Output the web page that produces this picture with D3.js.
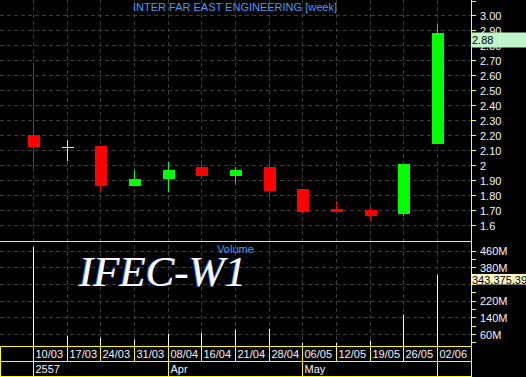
<!DOCTYPE html>
<html>
<head>
<meta charset="utf-8">
<script src="https://cdn.jsdelivr.net/npm/d3@7"></script>
<style>
body { margin: 0; background: #000; }
svg { display: block; }
text { font-family: 'Liberation Sans', Arial, sans-serif; font-size: 11px; }
</style>
</head>
<body>
<svg width="526" height="377"></svg>
<script>
// Weekly candles
var dates = ['10/03','17/03','24/03','31/03','08/04','16/04','21/04','28/04','06/05','12/05','19/05','26/05','02/06'];
var opens  = [2.20, 2.12, 2.13, 1.86, 1.91, 1.99, 1.93, 1.99, 1.84, 1.71, 1.70, 1.68, 2.14];
var highs  = [2.68, 2.17, 2.13, 1.97, 2.02, 2.01, 1.99, 2.04, 1.84, 1.76, 1.72, 2.01, 2.94];
var lows   = [1.97, 2.03, 1.83, 1.86, 1.82, 1.91, 1.88, 1.80, 1.68, 1.69, 1.63, 1.66, 2.14];
var closes = [2.12, 2.12, 1.86, 1.91, 1.97, 1.93, 1.97, 1.83, 1.69, 1.69, 1.66, 2.01, 2.88];
// volume in millions
var volumes = [478, 52, 42, 33, 61, 66, 81, 85, 18, 18, 28, 153, 343.37539];

var priceTicks  = [3.0, 2.9, 2.8, 2.7, 2.6, 2.5, 2.4, 2.3, 2.2, 2.1, 2.0, 1.9, 1.8, 1.7, 1.6];
var priceLabels = ['3.00','2.90','2.80','2.70','2.60','2.50','2.40','2.30','2.20','2.10','2','1.90','1.80','1.70','1.6'];
var volTicks  = [460, 380, 300, 220, 140, 60];
var volLabels = ['460M', '380M', '', '220M', '140M', '60M'];
var volMinor  = [420, 340, 260, 180, 100, 20];
var monthIdx    = [0, 4, 8, 12];
var monthLabels = ['2557', 'Apr', 'May', ''];

var title = 'INTER FAR EAST ENGINEERING [week]';
var symbol = 'IFEC-W1';

var svg = d3.select('svg');
svg.append('rect').attr('width', 526).attr('height', 377).attr('fill', '#000');

var axisX = 471.5;
var xScale = d3.scalePoint().domain(d3.range(dates.length)).range([33.5, 437.5]);
function px(i) { return Math.floor(xScale(i)) + 0.5; }
var yPrice = d3.scaleLinear().domain([1.6, 3.0]).range([225, 15]);
var yVol = d3.scaleLinear().domain([0, 480]).range([346.5, 246.5]);
function snap(v) { return Math.round(v) + 0.5; }

// grid
var gridG = svg.append('g')
    .attr('stroke', '#3a3a3a')
    .attr('stroke-dasharray', '4,3');
gridG.selectAll('.vg').data(d3.range(dates.length)).enter()
    .append('line')
    .attr('x1', px).attr('x2', px)
    .attr('y1', 0).attr('y2', 346);
gridG.selectAll('.hp').data(priceTicks).enter()
    .append('line')
    .attr('x1', 0).attr('x2', axisX)
    .attr('y1', function(d) { return snap(yPrice(d)); })
    .attr('y2', function(d) { return snap(yPrice(d)); });
gridG.selectAll('.hv').data(volTicks).enter()
    .append('line')
    .attr('x1', 0).attr('x2', axisX)
    .attr('y1', function(d) { return snap(yVol(d)); })
    .attr('y2', function(d) { return snap(yVol(d)); });

// titles
svg.append('text')
    .attr('x', 235).attr('y', 11)
    .attr('text-anchor', 'middle')
    .attr('fill', '#4a9cf0')
    .text(title);
svg.append('text')
    .attr('x', 235.5).attr('y', 252.5)
    .attr('text-anchor', 'middle')
    .attr('fill', '#4a9cf0')
    .text('Volume');

// big symbol watermark
var symStyle = function(sel) {
    sel.style('font-family', "'Liberation Serif', 'Times New Roman', serif")
       .style('font-style', 'italic')
       .style('font-size', '43px');
};
svg.append('text').attr('x', 78).attr('y', 286).attr('fill', '#4a7cff').call(symStyle).text(symbol);
svg.append('text').attr('x', 79).attr('y', 286).attr('fill', '#ffffff').call(symStyle).text(symbol);

// volume bars
svg.selectAll('.vol').data(volumes).enter()
    .append('line')
    .attr('x1', function(d, i) { return px(i); })
    .attr('x2', function(d, i) { return px(i); })
    .attr('y1', function(d) { return yVol(d); })
    .attr('y2', 346.5)
    .attr('stroke', '#fffff0');

// candles
var candles = dates.map(function(d, i) {
    return {o: opens[i], h: highs[i], l: lows[i], c: closes[i], i: i};
});
function candleColor(d) {
    if (d.o === d.c) return '#ffff00';
    return d.c > d.o ? '#00ff00' : '#ff0000';
}
var candleG = svg.selectAll('.candle').data(candles).enter()
    .append('g').attr('class', 'candle');
candleG.append('line')
    .attr('x1', function(d) { return px(d.i); })
    .attr('x2', function(d) { return px(d.i); })
    .attr('y1', function(d) { return Math.round(yPrice(d.h)); })
    .attr('y2', function(d) { return Math.round(yPrice(d.l)); })
    .attr('stroke', candleColor);
candleG.filter(function(d) { return d.o !== d.c; })
    .append('rect')
    .attr('x', function(d) { return Math.floor(xScale(d.i)) - 5; })
    .attr('width', 12)
    .attr('y', function(d) { return Math.round(yPrice(Math.max(d.o, d.c))); })
    .attr('height', function(d) { return Math.max(1, Math.round(Math.abs(yPrice(d.o) - yPrice(d.c)))); })
    .attr('fill', candleColor);
candleG.filter(function(d) { return d.o === d.c; })
    .append('line')
    .attr('x1', function(d) { return Math.floor(xScale(d.i)) - 5; })
    .attr('x2', function(d) { return Math.floor(xScale(d.i)) + 7; })
    .attr('y1', function(d) { return snap(yPrice(d.c)); })
    .attr('y2', function(d) { return snap(yPrice(d.c)); })
    .attr('stroke', '#ffff00');

// frame lines, right axis
var yellow = '#ffff00';
svg.append('line').attr('x1', 0).attr('x2', axisX).attr('y1', 241.5).attr('y2', 241.5).attr('stroke', yellow);
svg.append('line').attr('x1', axisX).attr('x2', axisX).attr('y1', 0).attr('y2', 377).attr('stroke', yellow);
svg.append('line').attr('x1', axisX).attr('x2', 476).attr('y1', 1.5).attr('y2', 1.5).attr('stroke', yellow);

var axisG = svg.append('g');
axisG.selectAll('.pt').data(priceTicks).enter()
    .append('line')
    .attr('x1', axisX).attr('x2', 476)
    .attr('y1', function(d) { return snap(yPrice(d)); })
    .attr('y2', function(d) { return snap(yPrice(d)); })
    .attr('stroke', yellow);
axisG.selectAll('.pl').data(priceTicks).enter()
    .append('text')
    .attr('x', 480)
    .attr('y', function(d) { return yPrice(d) + 4.5; })
    .attr('fill', '#f4f4ff')
    .text(function(d, i) { return priceLabels[i]; });
axisG.selectAll('.vt').data(volTicks.concat(volMinor)).enter()
    .append('line')
    .attr('x1', axisX).attr('x2', 476)
    .attr('y1', function(d) { return snap(yVol(d)); })
    .attr('y2', function(d) { return snap(yVol(d)); })
    .attr('stroke', yellow);
axisG.selectAll('.vl').data(volTicks).enter()
    .append('text')
    .attr('x', 480)
    .attr('y', function(d) { return yVol(d) + 4.5; })
    .attr('fill', '#f4f4ff')
    .text(function(d, i) { return volLabels[i]; });

// last value boxes
var lastI = dates.length - 1;
svg.append('rect')
    .attr('x', 471).attr('y', Math.round(yPrice(closes[lastI])) - 0.5)
    .attr('width', 55).attr('height', 15)
    .attr('fill', '#bff7cb');
svg.append('text')
    .attr('x', 472).attr('y', Math.round(yPrice(closes[lastI])) + 10.5)
    .attr('fill', '#000')
    .text(closes[lastI].toFixed(2));
svg.append('rect')
    .attr('x', 471).attr('y', Math.round(yVol(volumes[lastI])) - 1)
    .attr('width', 55).attr('height', 10.5)
    .attr('fill', '#fff7c8');
svg.append('text')
    .attr('x', 472).attr('y', Math.round(yVol(volumes[lastI])) + 8.5)
    .attr('fill', '#000')
    .text(d3.format(',')(Math.round(volumes[lastI] * 1e6)));

// bottom date axis box
var boxG = svg.append('g').attr('stroke', yellow);
[346.5, 361.5, 376.5].forEach(function(y) {
    boxG.append('line').attr('x1', 0).attr('x2', axisX).attr('y1', y).attr('y2', y);
});
boxG.append('line').attr('x1', 0.5).attr('x2', 0.5).attr('y1', 346.5).attr('y2', 376.5);
boxG.selectAll('.ds').data(d3.range(dates.length)).enter()
    .append('line')
    .attr('x1', px).attr('x2', px)
    .attr('y1', 346.5).attr('y2', 361.5);
boxG.selectAll('.ms').data(monthIdx).enter()
    .append('line')
    .attr('x1', px).attr('x2', px)
    .attr('y1', 361.5).attr('y2', 376.5);

svg.selectAll('.dl').data(dates).enter()
    .append('text')
    .attr('x', function(d, i) { return px(i) + 2; })
    .attr('y', 358)
    .attr('fill', '#f4f4ff')
    .text(function(d) { return d; });
svg.selectAll('.ml').data(monthLabels).enter()
    .append('text')
    .attr('x', function(d, i) { return px(monthIdx[i]) + 2; })
    .attr('y', 373)
    .attr('fill', '#f4f4ff')
    .text(function(d) { return d; });
</script>
</body>
</html>
